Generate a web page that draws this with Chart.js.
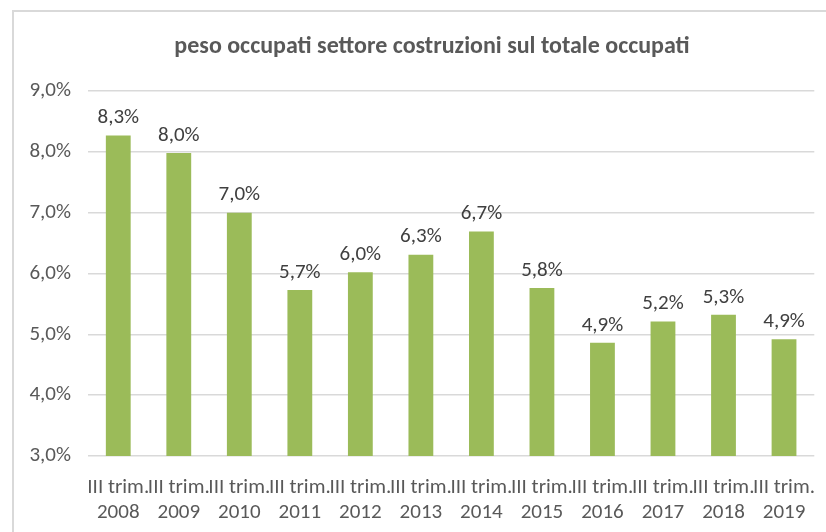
<!DOCTYPE html>
<html>
<head>
<meta charset="utf-8">
<script src="https://cdn.jsdelivr.net/npm/chart.js@4"></script>
<style>
  html, body { margin: 0; padding: 0; background: #fff; overflow: hidden; }
  #wrap { position: relative; width: 826px; height: 532px; }
  #frame { position: absolute; left: 12px; top: 10px; width: 900px; height: 600px; border: 2px solid #d9d9d9; pointer-events: none; }
</style>
</head>
<body>
<div id="wrap">
  <canvas id="chart" width="826" height="532"></canvas>
  <div id="frame"></div>
</div>
<script>
const anni = ['2008', '2009', '2010', '2011', '2012', '2013', '2014', '2015', '2016', '2017', '2018', '2019'];
const quote = [8.27, 7.98, 7.0, 5.73, 6.02, 6.31, 6.69, 5.76, 4.86, 5.21, 5.32, 4.92];
const yTicks = [3, 4, 5, 6, 7, 8, 9];
const titolo = 'peso occupati settore costruzioni sul totale occupati';

const fontFamily = 'Carlito, Lato, sans-serif';
const grigio = '#595959';

function fmt(v) {
    return v.toFixed(1).replace('.', ',') + '%';
}

// titolo ed etichette sopra le barre
const etichette = {
    id: 'etichette',
    afterDatasetsDraw(chart) {
        const ctx = chart.ctx;
        const meta = chart.getDatasetMeta(0);
        ctx.save();
        ctx.font = 'bold 24px ' + fontFamily;
        ctx.fillStyle = grigio;
        ctx.textAlign = 'center';
        ctx.textBaseline = 'middle';
        ctx.fillText(titolo, 432, 47);

        ctx.font = '21px ' + fontFamily;
        ctx.fillStyle = '#404040';
        ctx.textBaseline = 'bottom';
        meta.data.forEach((bar, i) => {
            ctx.fillText(fmt(quote[i]), bar.x, bar.y - 7);
        });
        ctx.restore();
    }
};

new Chart(document.getElementById('chart'), {
    type: 'bar',
    data: {
        labels: anni.map(a => ['III trim.', a]),
        datasets: [{
            data: quote,
            backgroundColor: '#9bbb59',
            barPercentage: 0.41,
            categoryPercentage: 1
        }]
    },
    options: {
        responsive: false,
        animation: false,
        layout: { padding: { left: 0, right: 1, top: 91, bottom: 0 } },
        plugins: {
            legend: { display: false },
            tooltip: { enabled: false },
            title: { display: false }
        },
        scales: {
            x: {
                grid: { display: false },
                border: { display: false },
                ticks: {
                    color: grigio,
                    font: { family: fontFamily, size: 21, lineHeight: 1.2 },
                    maxRotation: 0,
                    autoSkip: false,
                    padding: 11
                },
                afterFit: s => { s.height = 76; }
            },
            y: {
                min: 3,
                max: 9,
                afterBuildTicks: s => { s.ticks = yTicks.map(v => ({ value: v })); },
                grid: { color: '#d9d9d9', lineWidth: 1.5, drawTicks: false },
                border: { display: false },
                ticks: {
                    color: grigio,
                    font: { family: fontFamily, size: 21 },
                    padding: 17,
                    callback: v => fmt(v)
                },
                afterFit: s => { s.width = 88; }
            }
        }
    },
    plugins: [etichette]
});
</script>
</body>
</html>
